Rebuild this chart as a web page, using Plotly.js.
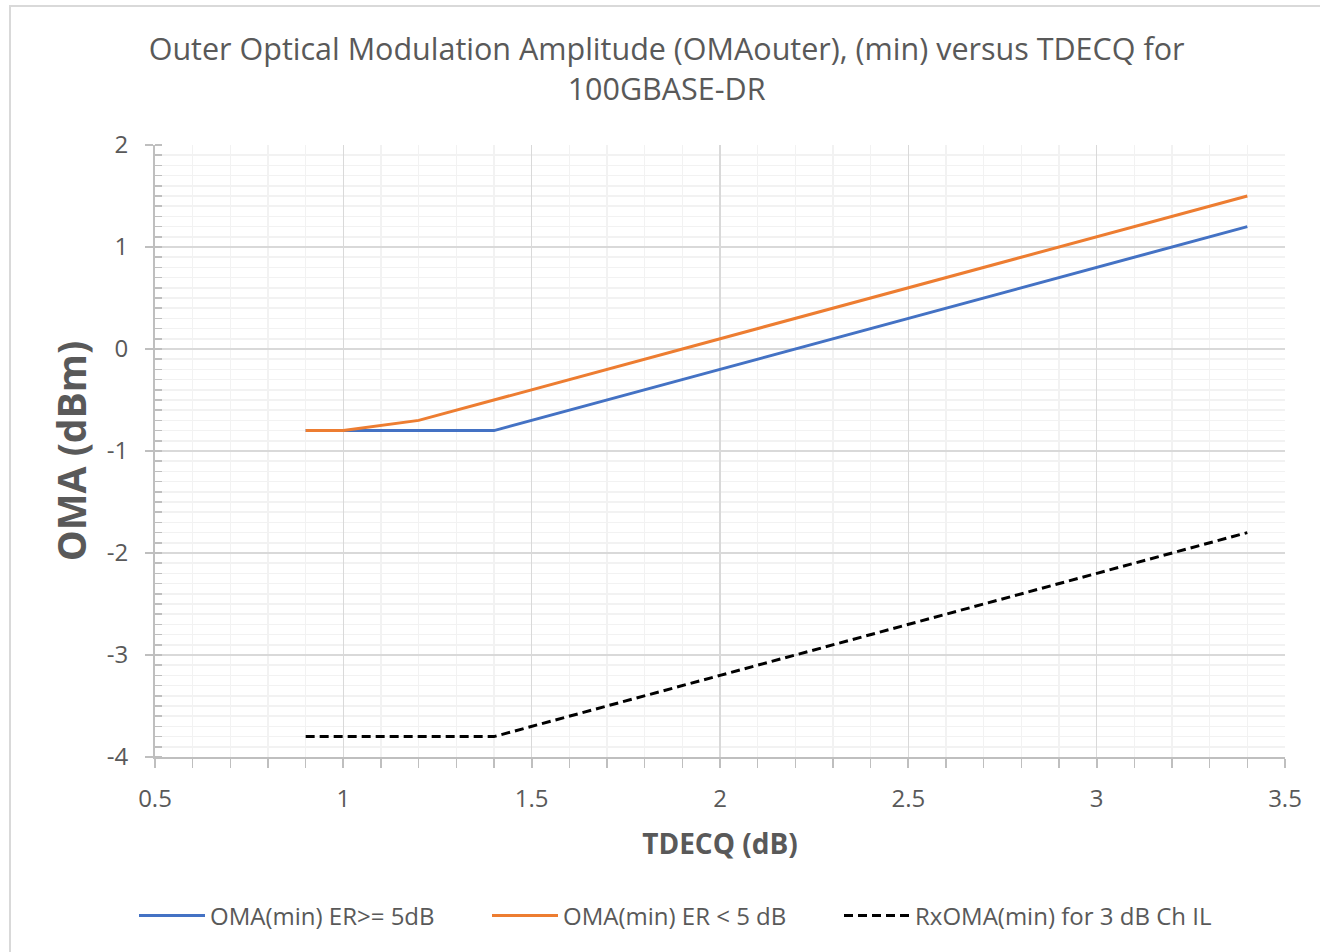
<!DOCTYPE html>
<html>
<head>
<meta charset="utf-8">
<script src="https://cdn.plot.ly/plotly-3.0.1.min.js"></script>
<style>
  html, body { margin: 0; padding: 0; background: #ffffff; }
  #chart { width: 1320px; height: 952px; }
</style>
</head>
<body>
<div id="chart"></div>
<script>
// ---- data ----
const xBlue = [0.9, 1.0, 1.4, 2.0, 2.5, 3.0, 3.4];
const yBlue = [-0.8, -0.8, -0.8, -0.2, 0.3, 0.8, 1.2];
const xOrange = [0.9, 1.0, 1.2, 1.4, 2.0, 2.5, 3.0, 3.4];
const yOrange = [-0.8, -0.8, -0.7, -0.5, 0.1, 0.6, 1.1, 1.5];
const xBlack = [0.9, 1.0, 1.4, 2.0, 2.5, 3.0, 3.4];
const yBlack = [-3.8, -3.8, -3.8, -3.2, -2.7, -2.2, -1.8];
const seriesNames = ["OMA(min) ER>= 5dB", "OMA(min) ER < 5 dB", "RxOMA(min) for 3 dB Ch IL"];
const xTickVals = [0.5, 1, 1.5, 2, 2.5, 3, 3.5];
const xTickText = ["0.5", "1", "1.5", "2", "2.5", "3", "3.5"];
const yTickVals = [-4, -3, -2, -1, 0, 1, 2];
const yTickText = ["-4", "-3", "-2", "-1", "0", "1", "2"];
const titleText = "Outer Optical Modulation Amplitude (OMAouter), (min) versus TDECQ for<br>100GBASE-DR";
const xTitle = "TDECQ (dB)";
const yTitle = "OMA (dBm)";

const txt = "#595959";
const fontFam = "'Open Sans', 'Noto Sans', sans-serif";

const traces = [
  { x: xBlue, y: yBlue, name: seriesNames[0], mode: "lines", type: "scatter", legend: "legend",
    line: { color: "#4472C4", width: 3 } },
  { x: xOrange, y: yOrange, name: seriesNames[1], mode: "lines", type: "scatter", legend: "legend2",
    line: { color: "#ED7D31", width: 3 } },
  { x: xBlack, y: yBlack, name: seriesNames[2], mode: "lines", type: "scatter", legend: "legend3",
    line: { color: "#000000", width: 3, dash: "9px,5px" } }
];

function legendAt(px) {
  return {
    orientation: "h",
    xref: "container", x: (px - 6) / 1320, xanchor: "left",
    yref: "container", y: 1 - 916 / 952, yanchor: "middle",
    font: { family: fontFam, size: 24, color: txt },
    bgcolor: "rgba(0,0,0,0)",
    itemwidth: 66
  };
}

const layout = {
  width: 1320, height: 952,
  paper_bgcolor: "#ffffff", plot_bgcolor: "#ffffff",
  margin: { l: 155, r: 35, t: 145, b: 195 },
  font: { family: fontFam, color: txt },
  showlegend: true,
  title: {
    text: titleText,
    font: { family: fontFam, size: 30.5, color: txt },
    xref: "container", x: 0.505, xanchor: "center",
    yref: "container", y: 1 - 60 / 952, yanchor: "middle"
  },
  xaxis: {
    range: [0.5, 3.5], tickmode: "array", tickvals: xTickVals, ticktext: xTickText,
    showgrid: true, gridcolor: "#d9d9d9", gridwidth: 1.5,
    zeroline: false, showline: true, linecolor: "#bfbfbf", linewidth: 2,
    ticks: "outside", ticklen: 9, tickcolor: "#bfbfbf", tickwidth: 2,
    tickfont: { family: fontFam, size: 24, color: txt },
    ticklabelstandoff: 10,
    minor: { dtick: 0.1, tick0: 0.5, showgrid: true, gridcolor: "#f2f2f2", gridwidth: 1.5,
             ticks: "outside", ticklen: 9, tickcolor: "#bfbfbf", tickwidth: 1.5 },
    title: { text: xTitle, font: { family: fontFam, size: 28, color: txt, weight: "bold" }, standoff: 22 }
  },
  yaxis: {
    range: [-4, 2], tickmode: "array", tickvals: yTickVals, ticktext: yTickText,
    showgrid: true, gridcolor: "#d9d9d9", gridwidth: 1.5,
    zeroline: false, showline: true, linecolor: "#bfbfbf", linewidth: 2,
    ticks: "outside", ticklen: 8, tickcolor: "#bfbfbf", tickwidth: 2,
    tickfont: { family: fontFam, size: 24, color: txt },
    ticklabelstandoff: 12,
    minor: { dtick: 0.1, tick0: 0, showgrid: true, gridcolor: "#f2f2f2", gridwidth: 1.5,
             ticks: "inside", ticklen: 7, tickcolor: "#bfbfbf", tickwidth: 1.5 },
    title: { text: yTitle, font: { family: fontFam, size: 39, color: txt, weight: "bold" }, standoff: 8 }
  },
  legend: legendAt(140),
  legend2: legendAt(493),
  legend3: legendAt(845),
  shapes: [
    { type: "rect", xref: "paper", yref: "paper",
      x0: (10 - 155) / 1130, x1: 1.2, y0: -0.5, y1: (757 - 6) / 612,
      line: { color: "#d9d9d9", width: 2 }, fillcolor: "rgba(0,0,0,0)", layer: "below" }
  ]
};

Plotly.newPlot("chart", traces, layout, { displayModeBar: false, staticPlot: true });
</script>
</body>
</html>
